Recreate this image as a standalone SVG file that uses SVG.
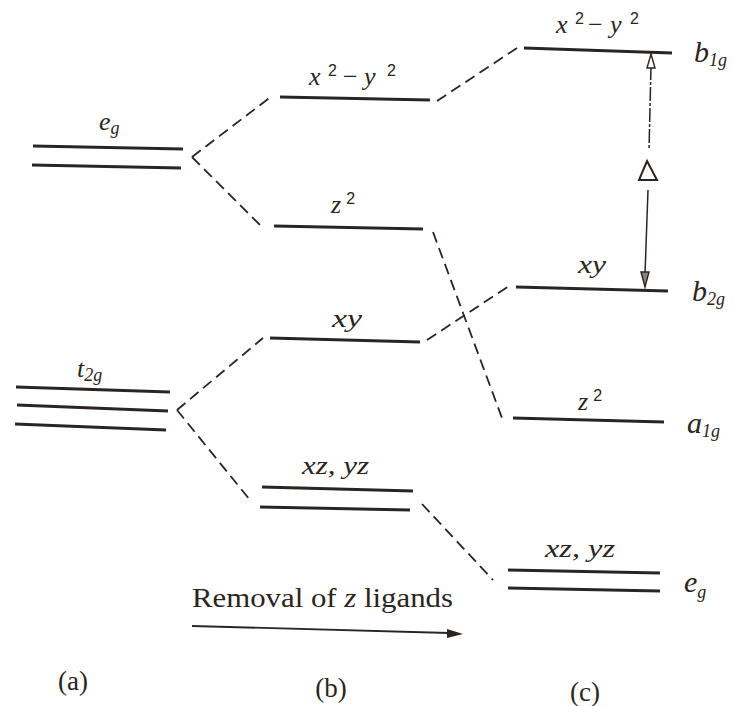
<svg xmlns="http://www.w3.org/2000/svg" width="734" height="706" viewBox="0 0 734 706">
<defs>
<style>
.lvl{stroke:#2b2421;stroke-width:3;stroke-linecap:butt;fill:none}
.dash{stroke:#2b2421;stroke-width:1.8;stroke-dasharray:11 6;fill:none}
.thin{stroke:#2b2421;stroke-width:1.5;fill:none}
.lab{font-style:italic;font-size:26px;fill:#2b2421}
.big{font-size:30px}
.sup{font-style:normal;font-size:16px}
.sub{font-size:18px}
.rom{font-size:27px;fill:#2b2421}
</style>
</defs>
<rect width="734" height="706" fill="#fff"/>

<g id="connectors">
<path class="dash" d="M192,157 L272,96"/>
<path class="dash" d="M192,157 L263,228"/>
<path class="dash" d="M437,101 L517,48"/>
<path class="dash" d="M433,232 L502,418"/>
<path class="dash" d="M427,340 L509,286"/>
<path class="dash" d="M177,410 L263,338"/>
<path class="dash" d="M177,410 L250,500"/>
<path class="dash" d="M422,504 L493,580"/>
</g>

<g font-family="'Liberation Serif', 'Times New Roman', 'DejaVu Serif', serif">
<g id="a-eg">
<line class="lvl" x1="33" y1="146" x2="183" y2="149"/>
<line class="lvl" x1="32" y1="165" x2="181" y2="168"/>
<text class="lab" font-family="'Liberation Serif', serif" x="99" y="130">e<tspan font-size="18" dy="4">g</tspan></text>
</g>
<g id="a-t2g">
<line class="lvl" x1="16" y1="387" x2="170" y2="392"/>
<line class="lvl" x1="17" y1="405" x2="168" y2="411"/>
<line class="lvl" x1="15" y1="424" x2="166" y2="430"/>
<text class="lab" font-family="'Liberation Serif', serif" x="77" y="377">t<tspan font-size="18" dy="4">2g</tspan></text>
</g>

<g id="b-x2y2">
<line class="lvl" x1="280" y1="97" x2="430" y2="100"/>
<text class="lab" font-family="'Liberation Serif', serif" y="85"><tspan x="309">x</tspan><tspan class="sup" font-family="'Liberation Sans', sans-serif" x="328" dy="-9">2</tspan><tspan x="343" dy="9" font-style="normal">−</tspan><tspan x="364">y</tspan><tspan class="sup" font-family="'Liberation Sans', sans-serif" x="387" dy="-9">2</tspan></text>
</g>
<g id="b-z2">
<line class="lvl" x1="274" y1="226" x2="423" y2="229"/>
<text class="lab" font-family="'Liberation Serif', serif" x="331" y="213">z<tspan class="sup" font-family="'Liberation Sans', sans-serif" dx="5" dy="-9">2</tspan></text>
</g>
<g id="b-xy">
<line class="lvl" x1="270" y1="338" x2="420" y2="342"/>
<text class="lab" font-family="'Liberation Serif', serif" x="332" y="327" textLength="30" lengthAdjust="spacingAndGlyphs">xy</text>
</g>
<g id="b-xzyz">
<line class="lvl" x1="262" y1="487" x2="413" y2="491"/>
<line class="lvl" x1="260" y1="507" x2="410" y2="510"/>
<text class="lab" font-family="'Liberation Serif', serif" x="302" y="474" font-size="27" textLength="67" lengthAdjust="spacingAndGlyphs">xz, yz</text>
</g>

<g id="c-b1g">
<line class="lvl" x1="524" y1="48" x2="672" y2="53"/>
<text class="lab" font-family="'Liberation Serif', serif" y="33"><tspan x="556">x</tspan><tspan class="sup" font-family="'Liberation Sans', sans-serif" x="575" dy="-9">2</tspan><tspan x="588" dy="9" font-style="normal">−</tspan><tspan x="610">y</tspan><tspan class="sup" font-family="'Liberation Sans', sans-serif" x="630" dy="-9">2</tspan></text>
<text class="lab big" font-family="'Liberation Serif', serif" x="694" y="62">b<tspan class="sub" dy="4">1g</tspan></text>
</g>
<g id="c-b2g">
<line class="lvl" x1="516" y1="287" x2="668" y2="291"/>
<text class="lab" font-family="'Liberation Serif', serif" x="578" y="273" textLength="28" lengthAdjust="spacingAndGlyphs">xy</text>
<text class="lab big" font-family="'Liberation Serif', serif" x="692" y="301">b<tspan class="sub" dy="4">2g</tspan></text>
</g>
<g id="c-a1g">
<line class="lvl" x1="513" y1="418" x2="664" y2="422"/>
<text class="lab" font-family="'Liberation Serif', serif" x="578" y="410">z<tspan class="sup" font-family="'Liberation Sans', sans-serif" dx="5" dy="-9">2</tspan></text>
<text class="lab big" font-family="'Liberation Serif', serif" x="687" y="433">a<tspan class="sub" dy="4">1g</tspan></text>
</g>
<g id="c-eg">
<line class="lvl" x1="508" y1="570" x2="660" y2="573"/>
<line class="lvl" x1="508" y1="588" x2="660" y2="591"/>
<text class="lab" font-family="'Liberation Serif', serif" x="545" y="557" font-size="26" textLength="70" lengthAdjust="spacingAndGlyphs">xz, yz</text>
<text class="lab big" font-family="'Liberation Serif', serif" x="684" y="592">e<tspan class="sub" dy="6">g</tspan></text>
</g>

<g id="delta">
<line class="thin" x1="651" y1="66" x2="649" y2="150" stroke-dasharray="14 2 3 2"/>
<polygon points="651,54 655,68 647,68" fill="#fff" stroke="#2b2421" stroke-width="1.4"/>
<polygon points="647,161 657,180 639,180" fill="#fff" stroke="#2b2421" stroke-width="2"/>
<line class="thin" x1="648" y1="190" x2="645" y2="274"/>
<polygon points="645,287 641,272 649,272" fill="#8a8380" stroke="#2b2421" stroke-width="1.4"/>
</g>

<g id="removal">
<text class="rom" font-family="'Liberation Serif', serif" x="192" y="607" textLength="261" lengthAdjust="spacingAndGlyphs">Removal of <tspan font-style="italic">z</tspan> ligands</text>
<line x1="192" y1="626" x2="449" y2="633" stroke="#2b2421" stroke-width="1.8"/>
<polygon points="463,634 447,629 447,638" fill="#2b2421"/>
</g>

<g id="panels">
<text class="rom" font-family="'Liberation Serif', serif" x="73" y="690" text-anchor="middle" font-size="25">(a)</text>
<text class="rom" font-family="'Liberation Serif', serif" x="331" y="697" text-anchor="middle" font-size="25">(b)</text>
<text class="rom" font-family="'Liberation Serif', serif" x="585" y="701" text-anchor="middle" font-size="25">(c)</text>
</g>
</g>
</svg>
